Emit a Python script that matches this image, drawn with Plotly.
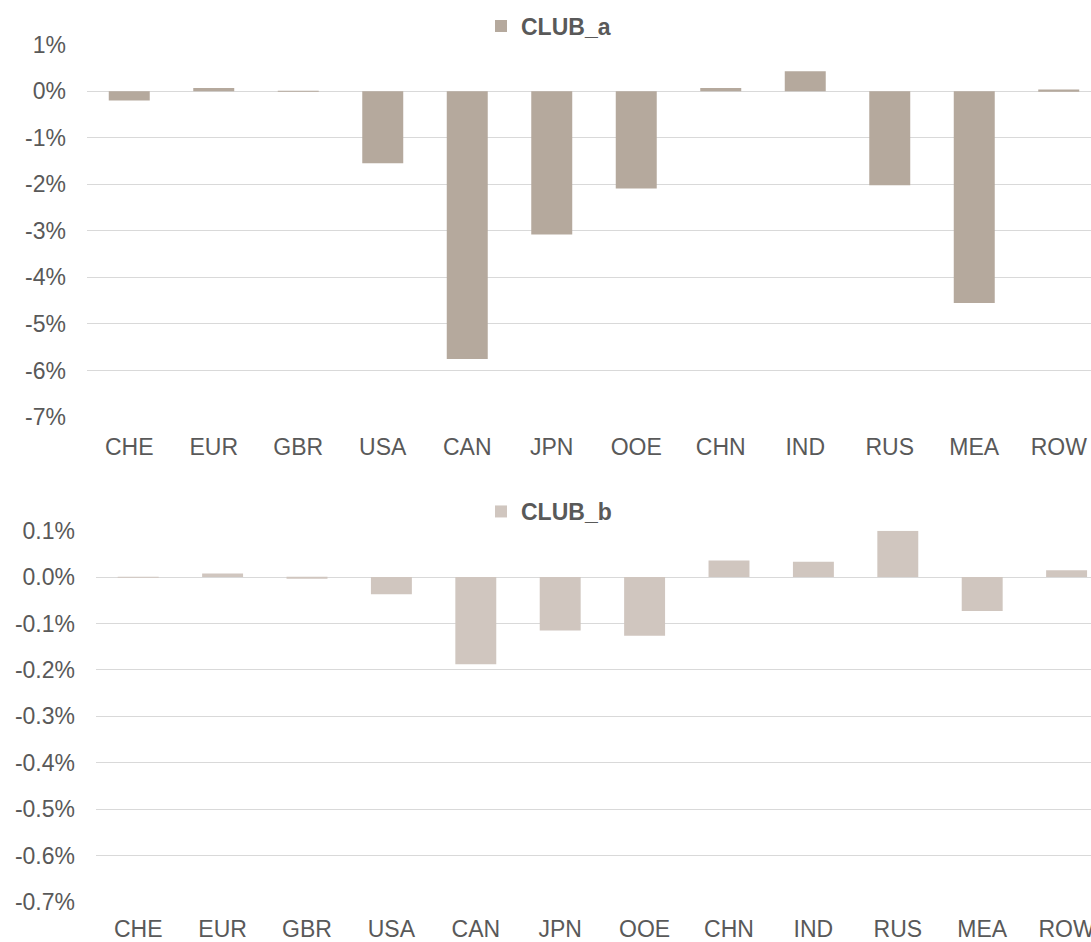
import plotly.graph_objects as go

categories = ["CHE", "EUR", "GBR", "USA", "CAN", "JPN", "OOE", "CHN", "IND", "RUS", "MEA", "ROW"]

# values in percent
club_a = [-0.20, 0.07, -0.01, -1.55, -5.755, -3.08, -2.09, 0.07, 0.43, -2.02, -4.55, 0.04]
club_b = [0.0005, 0.008, -0.002, -0.037, -0.1875, -0.115, -0.1265, 0.036, 0.033, 0.100, -0.073, 0.015]

top_tickvals = [1, 0, -1, -2, -3, -4, -5, -6, -7]
top_ticktext = ["1%", "0%", "-1%", "-2%", "-3%", "-4%", "-5%", "-6%", "-7%"]
bot_tickvals = [0.1, 0.0, -0.1, -0.2, -0.3, -0.4, -0.5, -0.6, -0.7]
bot_ticktext = ["0.1%", "0.0%", "-0.1%", "-0.2%", "-0.3%", "-0.4%", "-0.5%", "-0.6%", "-0.7%"]

W, H = 1091, 942
col_a = "#B5A99D"
col_b = "#D0C6BF"
grid = "#D9D9D9"
txt = "#595959"
font = "Liberation Sans, Arial, sans-serif"
FS = 23

fig = go.Figure()
fig.add_trace(go.Bar(x=categories, y=club_a, name="CLUB_a", marker=dict(color=col_a, line=dict(width=0)),
                     xaxis="x", yaxis="y", legend="legend"))
fig.add_trace(go.Bar(x=categories, y=club_b, name="CLUB_b", marker=dict(color=col_b, line=dict(width=0)),
                     xaxis="x2", yaxis="y2", legend="legend2"))


def px_x(v):
    return v / W


def px_y(v):
    return 1 - v / H


cat_w_top = 84.5
cat_w_bot = 84.4
top_left, bot_left = 87, 96

axis_common = dict(showline=False, ticks="", automargin=False,
                   tickfont=dict(family=font, size=FS, color=txt))

fig.update_layout(
    template="none",
    width=W, height=H,
    margin=dict(l=0, r=0, t=0, b=0, pad=0),
    paper_bgcolor="white", plot_bgcolor="white",
    font=dict(family=font, color=txt),
    bargap=0.515,
    showlegend=True,
    xaxis=dict(domain=[px_x(top_left), 1], anchor="y", type="category",
               range=[-0.5, -0.5 + (W - top_left) / cat_w_top], showgrid=False, zeroline=False,
               ticklabelstandoff=14, **axis_common),
    yaxis=dict(domain=[px_y(417), px_y(44.7)], anchor="x", range=[-7, 1],
               tickvals=top_tickvals, ticktext=top_ticktext,
               showgrid=True, gridcolor=grid, gridwidth=1.3,
               zeroline=True, zerolinecolor=grid, zerolinewidth=1.3,
               ticklabelstandoff=20, **axis_common),
    xaxis2=dict(domain=[px_x(bot_left), 1], anchor="y2", type="category",
                range=[-0.5, -0.5 + (W - bot_left) / cat_w_bot], showgrid=False, zeroline=False,
                ticklabelstandoff=11, **axis_common),
    yaxis2=dict(domain=[px_y(902), px_y(530.7)], anchor="x2", range=[-0.7, 0.1],
                tickvals=bot_tickvals, ticktext=bot_ticktext,
                showgrid=True, gridcolor=grid, gridwidth=1.3,
                zeroline=True, zerolinecolor=grid, zerolinewidth=1.3,
                ticklabelstandoff=20, **axis_common),
    legend=dict(x=px_x(481), y=px_y(26), xanchor="left", yanchor="middle", orientation="h",
                font=dict(family=font, size=FS, color=txt, weight="bold"), bgcolor="rgba(0,0,0,0)"),
    legend2=dict(x=px_x(481), y=px_y(511.5), xanchor="left", yanchor="middle", orientation="h",
                 font=dict(family=font, size=FS, color=txt, weight="bold"), bgcolor="rgba(0,0,0,0)"),
)

fig.write_html("out.html", config={"displayModeBar": False},
               post_script="document.body.style.margin='0px';document.body.style.overflow='hidden';")
